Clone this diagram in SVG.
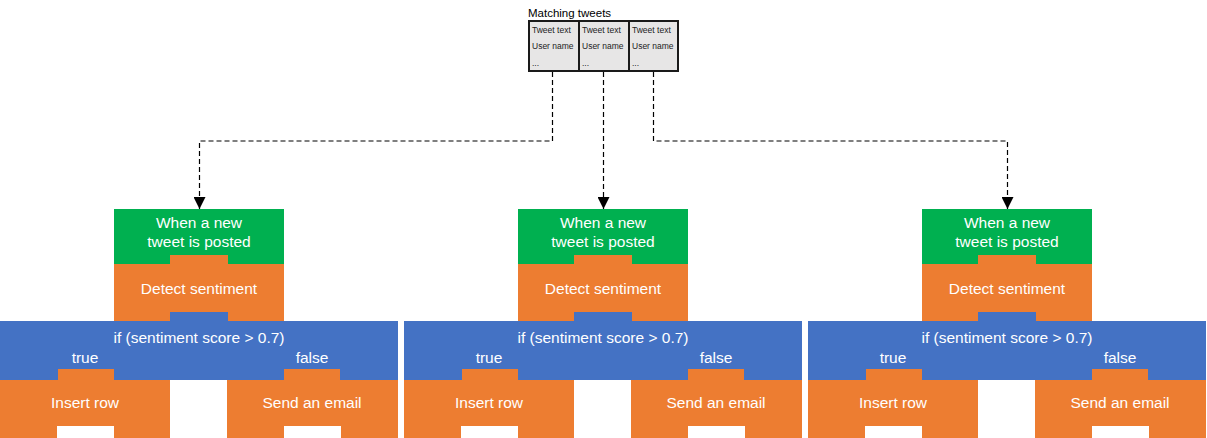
<svg xmlns="http://www.w3.org/2000/svg" width="1207" height="438" viewBox="0 0 1207 438">
<style>
.g{fill:#00B050}
.o{fill:#ED7D31}
.b{fill:#4472C4}
.t{font-family:"Liberation Sans",Arial,sans-serif;font-size:15.5px;fill:#ffffff;text-anchor:middle}
.cell{fill:#E7E6E6;stroke:#1a1a1a;stroke-width:2}
.ct{font-family:"Liberation Sans",Arial,sans-serif;font-size:8.5px;fill:#222}
.lbl{font-family:"Liberation Sans",Arial,sans-serif;font-size:11.5px;fill:#000}
.dash{fill:none;stroke:#000;stroke-width:1.2;stroke-dasharray:5 3}
</style>
<defs>
<marker id="arr" markerUnits="userSpaceOnUse" markerWidth="12" markerHeight="12" viewBox="0 0 12 12" refX="12" refY="6" orient="auto">
<path d="M0,0 L12,6 L0,12 Z" fill="#000"/>
</marker>
<g id="panel">
<g id="trigger">
<rect class="g" x="114" y="209" width="170" height="55"/>
<text class="t" x="199" y="228">When a new</text>
<text class="t" x="199" y="247">tweet is posted</text>
</g>
<g id="detect">
<path class="o" d="M114,264 H170 V255 H228 V264 H284 V321 H114 Z"/>
<text class="t" x="199" y="294">Detect sentiment</text>
</g>
<g id="condition">
<path class="b" d="M0,321 H170 V312 H228 V321 H398 V380 H0 Z"/>
<text class="t" x="199" y="343">if (sentiment score &gt; 0.7)</text>
<text class="t" x="85" y="363">true</text>
<text class="t" x="312" y="363">false</text>
</g>
<g id="insert">
<path class="o" d="M0,380 H58 V369 H114 V380 H170 V438 H114 V426 H57 V438 H0 Z"/>
<text class="t" x="85" y="408">Insert row</text>
</g>
<g id="email">
<path class="o" d="M227,380 H284 V369 H340 V380 H398 V438 H341 V426 H284 V438 H227 Z"/>
<text class="t" x="312" y="408">Send an email</text>
</g>
</g>
</defs>
<g id="table">
<text class="lbl" x="528" y="17">Matching tweets</text>
<rect class="cell" x="529" y="21" width="50" height="50"/>
<rect class="cell" x="579" y="21" width="50" height="50"/>
<rect class="cell" x="629" y="21" width="49" height="50"/>
<text class="ct" x="532" y="33">Tweet text</text>
<text class="ct" x="532" y="49">User name</text>
<text class="ct" x="532" y="66">...</text>
<text class="ct" x="582" y="33">Tweet text</text>
<text class="ct" x="582" y="49">User name</text>
<text class="ct" x="582" y="66">...</text>
<text class="ct" x="632" y="33">Tweet text</text>
<text class="ct" x="632" y="49">User name</text>
<text class="ct" x="632" y="66">...</text>
</g>
<g id="flow1"><use href="#panel"/></g>
<g id="flow2" transform="translate(404,0)"><use href="#panel"/></g>
<g id="flow3" transform="translate(808,0)"><use href="#panel"/></g>
<g id="connectors">
<path class="dash" d="M552.5,72 V141 H199.5 V209" marker-end="url(#arr)"/>
<path class="dash" d="M603.5,72 V209" marker-end="url(#arr)"/>
<path class="dash" d="M653.5,72 V141 H1007.5 V209" marker-end="url(#arr)"/>
</g>
</svg>
